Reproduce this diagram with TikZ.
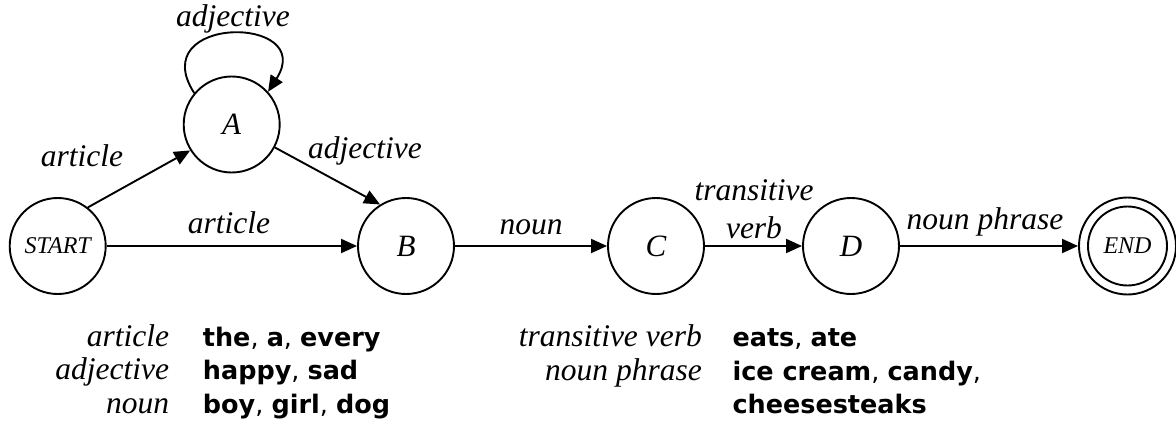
\documentclass[tikz,border=0pt]{standalone}
\usepackage{fontspec}
\setmainfont{Liberation Serif}
\newfontfamily\legendsans{DejaVu Sans}
\usetikzlibrary{arrows.meta,calc}
\tikzset{
  state/.style={circle, draw, line width=1.9pt, minimum size=96pt, inner sep=0pt,
    font=\fontsize{31}{36}\selectfont\itshape},
  smallstate/.style={state, font=\fontsize{24}{28}\selectfont\itshape},
  trans/.style={line width=1.9pt, -{Triangle[length=16pt,width=14pt]}},
  lbl/.style={anchor=base, inner sep=0pt, font=\fontsize{31.5}{36}\selectfont\itshape},
  legkey/.style={anchor=base east, inner sep=0pt, font=\fontsize{31.5}{36}\selectfont\itshape},
  legval/.style={anchor=base west, inner sep=0pt, font=\fontsize{25.5}{30}\legendsans},
}
\begin{document}
\begin{tikzpicture}[x=1pt,y=-1pt]
\useasboundingbox (0,0) rectangle (1176,428);
% states
\node[smallstate] (START) at (57.7,246) {START};
\node[state] (A) at (231.7,124.5) {A};
\node[state] (B) at (406,246) {B};
\node[state] (C) at (656,246) {C};
\node[state] (D) at (851,246) {D};
\node[smallstate, minimum size=97pt] (END) at (1127.5,246) {END};
\node[circle, draw, line width=1.9pt, minimum size=79pt, inner sep=0pt] (ENDi) at (END.center) {};
% transitions
\draw[trans] (A.140) .. controls ($(A.center)+(-88,-110)$) and ($(A.center)+(86,-110)$) .. (A.42);
\draw[trans] (START.52) -- (A.212);
\draw[trans] (A.-28) -- (B.122);
\draw[trans] (START) -- (B);
\draw[trans] (B) -- (C);
\draw[trans] (C) -- (D);
\draw[trans] (D) -- (END);
% transition labels
\node[lbl] (l1) at (233,27) {adjective};
\node[lbl] (l2) at (82,166.7) {article};
\node[lbl] (l3) at (365,158) {adjective};
\node[lbl] (l4) at (229,233) {article};
\node[lbl] (l5) at (531,234) {noun};
\node[lbl] (l6) at (754,200.7) {transitive};
\node[lbl] (l7) at (754,238) {verb};
\node[lbl] (l8) at (985,229) {noun phrase};
% legend
\node[legkey] (k1) at (169.3,346) {article};
\node[legkey] (k2) at (169.3,379.5) {adjective};
\node[legkey] (k3) at (169.3,413) {noun};
\node[legval] (v1) at (202.7,346) {\textbf{the}, \textbf{a}, \textbf{every}};
\node[legval] (v2) at (202.7,379.5) {\textbf{happy}, \textbf{sad}};
\node[legval] (v3) at (202.7,413) {\textbf{boy}, \textbf{girl}, \textbf{dog}};
\node[legkey] (k4) at (702,346.5) {transitive verb};
\node[legkey] (k5) at (702,380) {noun phrase};
\node[legval] (v4) at (732.3,346.5) {\textbf{eats}, \textbf{ate}};
\node[legval] (v5) at (732.3,380) {\textbf{ice cream}, \textbf{candy},};
\node[legval] (v6) at (732.3,413.5) {\textbf{cheesesteaks}};
\end{tikzpicture}
\end{document}
